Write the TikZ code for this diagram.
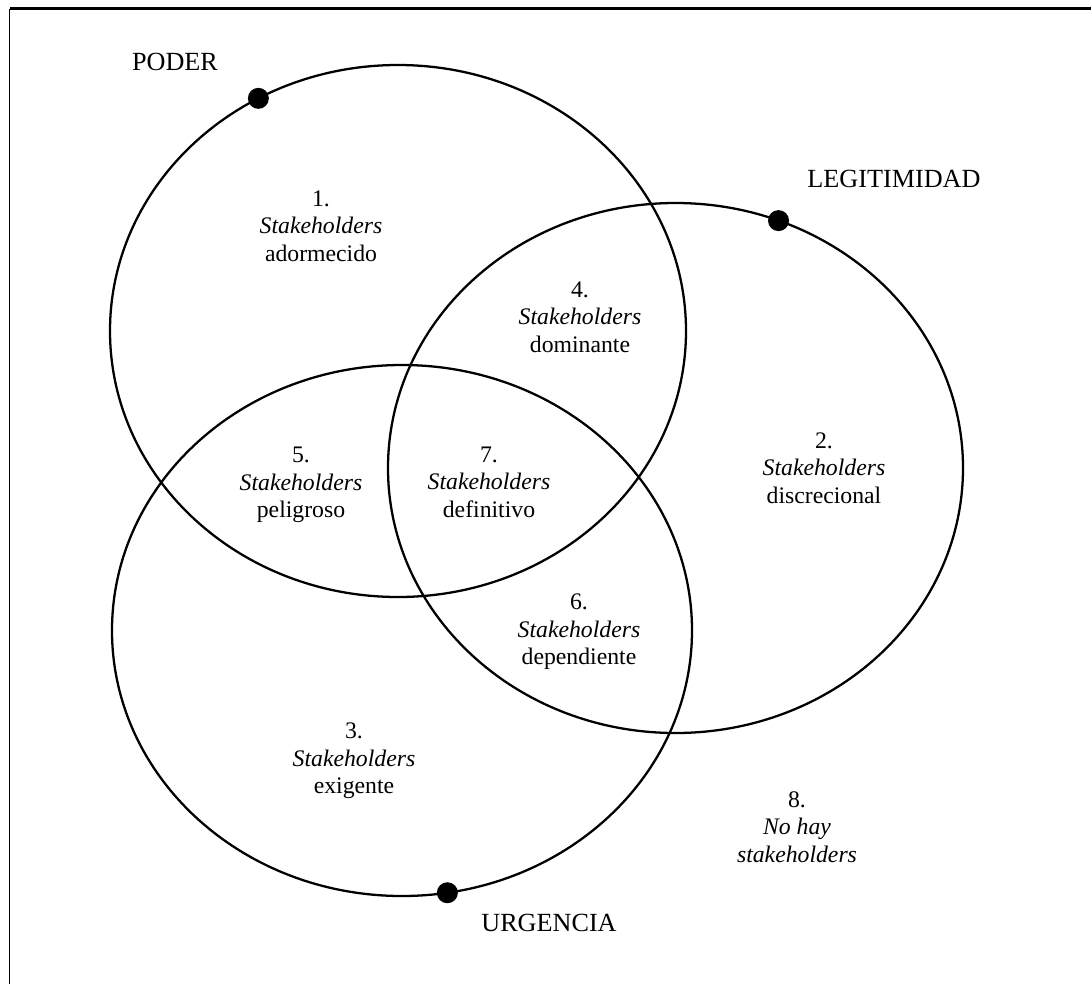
\documentclass[tikz,border=0pt]{standalone}
\usepackage{fontspec}
\setmainfont{Liberation Serif}
\tikzset{
every picture/.style={
line width=1.3pt
}}

\begin{document}
\begin{tikzpicture}[
lbl/.style = {font=\fontsize{14.9}{17}\selectfont, inner sep=0pt},
zone/.style = {align=center, inner sep=0pt, font=\fontsize{13.5}{15.6}\selectfont}]

\useasboundingbox (0,0) rectangle (21.82,-19.68);
% marco
\draw [line width=1.6pt] (0.19,-0.17) -- (21.82,-0.17);
\draw [line width=0.8pt] (0.19,-0.17) -- (0.19,-19.68);

\coordinate (poder) at (7.96,-6.62);
\coordinate (legit) at (13.51,-9.36);
\coordinate (urgen) at (8.04,-12.61);

\draw (poder) ellipse [x radius=5.76cm, y radius=5.32cm];
\draw (legit) ellipse [x radius=5.75cm, y radius=5.30cm];
\draw (urgen) ellipse [x radius=5.80cm, y radius=5.31cm];

\fill (poder) ++(119:5.76cm and 5.32cm) circle (0.21cm);
\fill (legit) ++(69:5.75cm and 5.30cm) circle (0.21cm);
\fill (urgen) ++(279:5.80cm and 5.31cm) circle (0.21cm);

\node [lbl] (tpoder) at (3.50,-1.24) {PODER};
\node [lbl] (tlegit) at (17.88,-3.58) {LEGITIMIDAD};
\node [lbl] (turgen) at (10.98,-18.46) {URGENCIA};

\node [zone] (adormecido) at (6.42,-4.52) {1.\\ \textit{Stakeholders}\\ adormecido};
\node [zone] (discrecional) at (16.48,-9.36) {2.\\ \textit{Stakeholders}\\ discrecional};
\node [zone] (exigente) at (7.08,-15.22) {3.\\ \textit{Stakeholders}\\ exigente};
\node [zone] (dominante) at (11.60,-6.34) {4.\\ \textit{Stakeholders}\\ dominante};
\node [zone] (peligroso) at (6.02,-9.70) {5.\\ \textit{Stakeholders}\\ peligroso};
\node [zone] (dependiente) at (11.58,-12.64) {6.\\ \textit{Stakeholders}\\ dependiente};
\node [zone] (definitivo) at (9.78,-9.64) {7.\\ \textit{Stakeholders}\\ definitivo};
\node [zone] (ninguno) at (15.94,-16.54) {8.\\ \textit{No hay}\\ \textit{stakeholders}};
\end{tikzpicture}
\end{document}
